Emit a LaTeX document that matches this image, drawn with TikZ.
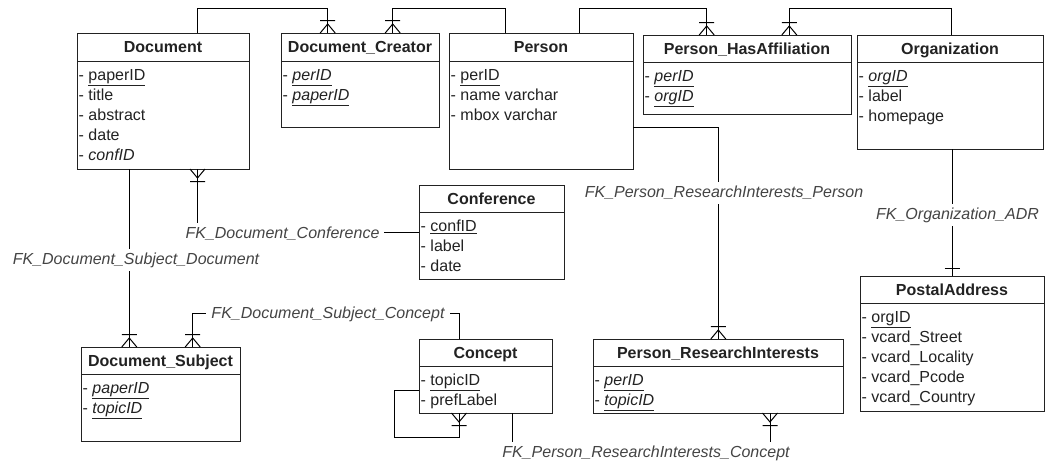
\documentclass[tikz,border=0pt]{standalone}
\usepackage{fontspec}
\setmainfont{Liberation Sans}
\usetikzlibrary{calc}
\definecolor{ink}{HTML}{222222}
\definecolor{lbl}{HTML}{444444}
\newcommand{\fsz}{\fontsize{16pt}{20pt}\selectfont}
\newcommand{\pk}[1]{\underline{#1}}
\tikzset{
  ent/.style={draw=ink, line width=1pt, inner sep=0pt, outer sep=0pt, fill=white},
  hline/.style={draw=ink, line width=1pt},
  etitle/.style={font=\fsz\bfseries, text=ink, inner sep=0pt, text height=11.5pt, text depth=0pt},
  erow/.style={font=\fsz, text=ink, inner sep=0pt, anchor=base west},
  conn/.style={draw=black, line width=1pt},
  fk/.style={font=\fsz\itshape, text=lbl, fill=white, inner xsep=5pt, inner ysep=4pt},
  crowtop/.pic={\draw[conn] (-7.5,0) -- (0,-9) -- (7.5,0) (-7.5,-12.5) -- (7.5,-12.5);},
  crowbot/.pic={\draw[conn] (-7.5,0) -- (0,9) -- (7.5,0) (-7.5,12.5) -- (7.5,12.5);},
  onetop/.pic={\draw[conn] (-7.5,-7.5) -- (7.5,-7.5);},
}
% name, x, y, w, h, header height, title, rows
\newcommand{\entity}[8]{%
  \node[ent, minimum width=#4pt, minimum height=#5pt, anchor=north west] (#1) at (#2,#3) {};
  \draw[hline] ([yshift=-#6pt]#1.north west) -- ([yshift=-#6pt]#1.north east);
  \node[etitle] (#1-t) at ([yshift={-#6pt/2}]#1.north) {#7};
  \foreach \r [count=\i from 0] in {#8} {
    \node[erow] (#1-r\i) at ([xshift=1.5pt, yshift={-(#6+19.5+20*\i)*1pt}]#1.north west) {- \r};
  }
}
\begin{document}
\begin{tikzpicture}[x=1pt,y=-1pt]
\fill[white] (0,0) rectangle (1045,466);
\useasboundingbox (0,0) rectangle (1045,466);

% entities
\entity{doc}{77}{33}{172}{136}{28}{Document}{\pk{paperID},title,abstract,date,\textit{confID}}
\entity{dcr}{281}{33}{158}{94}{28}{Document\_Creator}{\pk{\textit{perID}},\pk{\textit{paperID}}}
\entity{per}{449}{33}{184}{136}{28}{Person}{\pk{perID},name varchar,mbox varchar}
\entity{pha}{643}{35}{208}{79}{27}{Person\_HasAffiliation}{\pk{\textit{perID}},\pk{\textit{orgID}}}
\entity{org}{857}{35}{186}{114}{27}{Organization}{\pk{\textit{orgID}},label,homepage}
\entity{conf}{419}{185}{145}{94}{27}{Conference}{\pk{confID},label,date}
\entity{dsub}{81}{347}{159}{94}{27}{Document\_Subject}{\pk{\textit{paperID}},\pk{\textit{topicID}}}
\entity{con}{419}{339}{133}{74}{27}{Concept}{\pk{topicID},prefLabel}
\entity{pri}{593}{339}{250}{74}{27}{Person\_ResearchInterests}{\pk{\textit{perID}},\pk{\textit{topicID}}}
\entity{post}{860}{276}{184}{135}{27}{PostalAddress}{\pk{orgID},vcard\_Street,vcard\_Locality,vcard\_Pcode,vcard\_Country}

% connection points
\coordinate (lev) at (0,8.3);
\coordinate (docT) at ([xshift=120pt]doc.north west);
\coordinate (docB1) at ([xshift=52.3pt]doc.south west);
\coordinate (docB2) at ([xshift=120.5pt]doc.south west);
\coordinate (dcrA) at ([xshift=46.7pt]dcr.north west);
\coordinate (dcrB) at ([xshift=111.7pt]dcr.north west);
\coordinate (perT1) at ([xshift=56pt]per.north west);
\coordinate (perT2) at ([xshift=130.3pt]per.north west);
\coordinate (perE) at ([yshift=-94.7pt]per.north east);
\coordinate (phaA) at ([xshift=63.7pt]pha.north west);
\coordinate (phaB) at ([xshift=146.3pt]pha.north west);
\coordinate (orgT) at ([xshift=94pt]org.north west);
\coordinate (dsubA) at ([xshift=48.3pt]dsub.north west);
\coordinate (dsubB) at ([xshift=111.7pt]dsub.north west);
\coordinate (conT) at ([xshift=40pt]con.north west);
\coordinate (conB1) at ([xshift=40pt]con.south west);
\coordinate (conB2) at ([xshift=93.7pt]con.south west);
\coordinate (conL) at ([yshift=-51pt]con.north west);
\coordinate (priT) at ([xshift=125.3pt]pri.north west);
\coordinate (priB) at ([xshift=177pt]pri.south west);

% connectors
\draw[conn] (docT) -- (docT |- lev) -| (dcrA);
\draw[conn] (perT1) -- (perT1 |- lev) -| (dcrB);
\draw[conn] (perT2) -- (perT2 |- lev) -| (phaA);
\draw[conn] (orgT) -- (orgT |- lev) -| (phaB);
\draw[conn] (perE) -| (priT);
\draw[conn] (post.north |- org.south) -- (post.north);
\draw[conn] (docB2) |- (conf.west);
\draw[conn] (docB1) -- (dsubA);
\draw[conn] (conT) -- ++(0,-26) -| (dsubB);
\draw[conn] (conL) -- ++(-24.7,0) -- ++(0,47.7) -| (conB1);
\draw[conn] (conB2) -- ++(0,40) -| (priB);

% end marks
\pic at (dcrA) {crowtop};
\pic at (dcrB) {crowtop};
\pic at (phaA) {crowtop};
\pic at (phaB) {crowtop};
\pic at (priT) {crowtop};
\pic at (dsubA) {crowtop};
\pic at (dsubB) {crowtop};
\pic at (docB2) {crowbot};
\pic at (conB1) {crowbot};
\pic at (priB) {crowbot};
\pic at (post.north) {onetop};

% labels
\node[fk] (l1) at (282.5,233.5) {FK\_Document\_Conference};
\node[fk] (l2) at (136,260) {FK\_Document\_Subject\_Document};
\node[fk] (l3) at (328,314) {FK\_Document\_Subject\_Concept};
\node[fk] (l4) at (724,193) {FK\_Person\_ResearchInterests\_Person};
\node[fk] (l5) at (957.5,215) {FK\_Organization\_ADR};
\node[fk] (l6) at (646,453) {FK\_Person\_ResearchInterests\_Concept};
\end{tikzpicture}
\end{document}
